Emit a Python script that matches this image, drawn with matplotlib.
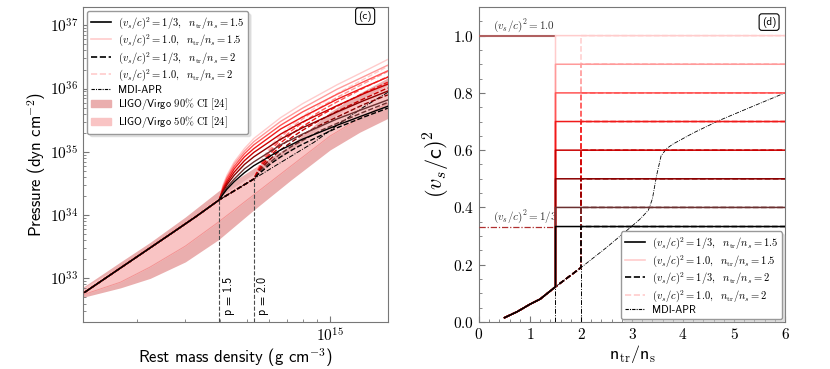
import numpy as np
import matplotlib
matplotlib.use('Agg')
import matplotlib.pyplot as plt
from matplotlib.lines import Line2D
from matplotlib.patches import Patch
from matplotlib.ticker import FuncFormatter, LogLocator, NullFormatter, MultipleLocator, AutoMinorLocator

plt.rcParams['mathtext.fontset'] = 'cm'
plt.rcParams['font.family'] = ['cmss10', 'DejaVu Sans']
plt.rcParams['axes.unicode_minus'] = False

# saturation rest-mass density (g cm^-3)
rho_sat = 2.65e14

# sound speeds squared of the constant-sound-speed extensions
cs2_vals = [1/3, 0.4, 0.5, 0.6, 0.7, 0.8, 0.9, 1.0]
cs2_colors = ['#000000', '#6b3030', '#8b0000', '#c80000', '#f01a1a', '#ff5555', '#ff9a9a', '#ffcccc']

# MDI-APR, left panel: n/n_s and log10 P
mdi_n = [0.49, 0.7, 1.0, 1.24, 1.5, 2.0, 2.5, 3.0, 3.3, 3.6, 4.0, 5.0, 6.1]
mdi_logP = [32.78, 33.24, 33.70, 33.98, 34.24, 34.57, 34.83, 35.04, 35.15, 35.27, 35.42, 35.71, 35.94]

# CSS branches after n_tr/n_s = 1.5 (rows follow cs2_vals)
n_after15 = [1.55, 1.6, 1.7, 1.85, 2.0, 2.5, 3.0, 4.0, 5.0, 6.1]
logP_tr15 = [
    [34.33, 34.41, 34.53, 34.67, 34.78, 35.03, 35.20, 35.42, 35.58, 35.72],
    [34.35, 34.44, 34.57, 34.73, 34.84, 35.11, 35.28, 35.52, 35.68, 35.82],
    [34.37, 34.48, 34.63, 34.80, 34.92, 35.20, 35.38, 35.63, 35.81, 35.96],
    [34.40, 34.51, 34.68, 34.86, 34.99, 35.28, 35.47, 35.73, 35.92, 36.07],
    [34.42, 34.54, 34.73, 34.92, 35.05, 35.36, 35.55, 35.83, 36.02, 36.18],
    [34.44, 34.58, 34.77, 34.97, 35.11, 35.42, 35.63, 35.91, 36.11, 36.28],
    [34.46, 34.60, 34.81, 35.01, 35.16, 35.48, 35.69, 35.99, 36.19, 36.37],
    [34.48, 34.63, 34.84, 35.05, 35.21, 35.54, 35.76, 36.06, 36.27, 36.46],
]

# CSS branches after n_tr/n_s = 2
n_after20 = [2.07, 2.15, 2.3, 2.5, 2.75, 3.0, 3.5, 4.0, 5.0, 6.1]
logP_tr20 = [
    [34.64, 34.70, 34.81, 34.92, 35.03, 35.12, 35.26, 35.38, 35.55, 35.69],
    [34.65, 34.73, 34.84, 34.97, 35.09, 35.18, 35.34, 35.45, 35.63, 35.78],
    [34.67, 34.76, 34.89, 35.03, 35.16, 35.27, 35.43, 35.55, 35.75, 35.90],
    [34.69, 34.79, 34.94, 35.09, 35.23, 35.34, 35.51, 35.64, 35.84, 36.01],
    [34.70, 34.82, 34.98, 35.14, 35.29, 35.40, 35.58, 35.72, 35.93, 36.10],
    [34.72, 34.84, 35.02, 35.19, 35.34, 35.46, 35.65, 35.79, 36.01, 36.19],
    [34.73, 34.87, 35.05, 35.23, 35.39, 35.52, 35.71, 35.86, 36.08, 36.27],
    [34.75, 34.89, 35.09, 35.27, 35.43, 35.56, 35.76, 35.92, 36.15, 36.35],
]

# LIGO/Virgo credible bands (log10 P)
band_rho = [1.28e14, 1.75e14, 2.24e14, 3.0e14, 3.95e14, 5.3e14, 7.2e14, 1.0e15, 1.28e15, 1.62e15]
ci90_lo = [32.70, 32.85, 33.00, 33.26, 33.61, 34.08, 34.55, 35.03, 35.31, 35.53]
ci90_hi = [32.86, 33.26, 33.57, 33.97, 34.38, 34.74, 35.11, 35.63, 35.93, 36.17]
ci50_lo = [32.74, 32.94, 33.18, 33.51, 33.89, 34.32, 34.77, 35.25, 35.53, 35.77]
ci50_hi = [32.85, 33.19, 33.51, 33.89, 34.28, 34.65, 35.01, 35.52, 35.82, 36.06]

# MDI-APR sound speed, right panel
rp_mdi_n = [0.5, 0.75, 1.0, 1.2, 1.5, 2.0, 2.5, 3.0, 3.15, 3.32, 3.4, 3.48, 3.57, 3.68, 3.81, 4.2, 4.7, 5.3, 6.0]
rp_mdi_cs2 = [0.015, 0.036, 0.062, 0.08, 0.123, 0.19, 0.26, 0.335, 0.358, 0.39, 0.43, 0.51, 0.58, 0.606, 0.622, 0.66, 0.703, 0.748, 0.80]

n_tr_vals = [1.5, 2.0]

fig = plt.figure(figsize=(8.3, 3.69), dpi=100)
ax1 = fig.add_axes([0.1, 0.1274, 0.3675, 0.8537])
ax2 = fig.add_axes([0.5771, 0.1274, 0.3687, 0.8537])

spine_col = '#777777'
ci90_col = '#eaaeae'
ci50_col = '#f9c4c4'
dashdot = (0, (5, 1.5, 1, 1.5))

# ---------- left panel ----------
ax1.fill_between(band_rho, 10**np.array(ci90_lo), 10**np.array(ci90_hi), color=ci90_col, lw=0, zorder=1)
ax1.fill_between(band_rho, 10**np.array(ci50_lo), 10**np.array(ci50_hi), color=ci50_col, lw=0, zorder=1)
ax1.plot(band_rho, 10**np.array(ci50_lo), color='#f29494', lw=0.7, zorder=1)

mdi_rho = np.array(mdi_n) * rho_sat
ax1.plot(mdi_rho, 10**np.array(mdi_logP), color='black', lw=0.7, ls=dashdot, zorder=2)

# dashed set (n_tr = 2) first, solid set on top
for i in reversed(range(len(cs2_vals))):
    x = np.array(mdi_n[:6] + n_after20) * rho_sat
    y = 10**np.array(mdi_logP[:6] + logP_tr20[i])
    ax1.plot(x, y, color=cs2_colors[i], lw=1.0, ls='--', zorder=3)
for i in reversed(range(len(cs2_vals))):
    x = np.array(mdi_n[:5] + n_after15) * rho_sat
    y = 10**np.array(mdi_logP[:5] + logP_tr15[i])
    ax1.plot(x, y, color=cs2_colors[i], lw=1.0, zorder=4)

ymin1 = 10**32.31
for k, ntr in enumerate(n_tr_vals):
    idx = mdi_n.index(ntr)
    ax1.vlines(ntr * rho_sat, ymin1, 10**mdi_logP[idx], color='0.3', lw=0.8, ls='--', zorder=2)
    ax1.text(ntr * rho_sat * 1.03, 10**32.42, 'p = %.1f' % ntr, rotation=90,
             ha='left', va='bottom', fontsize=8.5)

ax1.set_xscale('log')
ax1.set_yscale('log')
ax1.set_xlim(1.28e14, 1.62e15)
ax1.set_ylim(ymin1, 10**37.29)
ax1.xaxis.set_major_formatter(FuncFormatter(lambda v, p: r'$10^{%d}$' % round(np.log10(v))))
ax1.yaxis.set_major_formatter(FuncFormatter(lambda v, p: r'$10^{%d}$' % round(np.log10(v))))
ax1.xaxis.set_minor_formatter(NullFormatter())
ax1.yaxis.set_minor_formatter(NullFormatter())
ax1.yaxis.set_major_locator(LogLocator(base=10, numticks=10))
ax1.yaxis.set_minor_locator(LogLocator(base=10, subs=np.arange(2, 10), numticks=10))
ax1.set_xlabel('Rest mass density (g cm$^{-3}$)', fontsize=12, labelpad=1)
ax1.set_ylabel('Pressure (dyn cm$^{-2}$)', fontsize=12, labelpad=1)

handles1 = [
    Line2D([], [], color='black', lw=1.2),
    Line2D([], [], color='#ffcccc', lw=1.2),
    Line2D([], [], color='black', lw=1.2, ls='--'),
    Line2D([], [], color='#ffcccc', lw=1.2, ls='--'),
    Line2D([], [], color='black', lw=0.8, ls=(0, (3, 1, 1, 1))),
    Patch(color=ci90_col),
    Patch(color=ci50_col),
]
labels1 = [
    r'$(v_s/c)^2 = 1/3,\ \ n_{\rm tr}/n_s = 1.5$',
    r'$(v_s/c)^2 = 1.0,\ \ n_{\rm tr}/n_s = 1.5$',
    r'$(v_s/c)^2 = 1/3,\ \ n_{\rm tr}/n_s = 2$',
    r'$(v_s/c)^2 = 1.0,\ \ n_{\rm tr}/n_s = 2$',
    'MDI-APR',
    r'LIGO/Virgo $\mathrm{90\%\ CI\ [24]}$',
    r'LIGO/Virgo $\mathrm{50\%\ CI\ [24]}$',
]
ax1.legend(handles1, labels1, loc='upper left', fontsize=7.6, frameon=True, edgecolor='0.6',
           shadow={'color': '0.8'}, borderaxespad=0.4, labelspacing=0.15, handlelength=1.9,
           handletextpad=0.7, borderpad=0.35)
ax1.text(0.925, 0.971, '(c)', transform=ax1.transAxes, ha='center', va='center', fontsize=8,
         bbox=dict(boxstyle='round,pad=0.25', fc='white', ec='black', lw=0.8))

# ---------- right panel ----------
ax2.plot(rp_mdi_n, rp_mdi_cs2, color='black', lw=0.6, ls=dashdot, zorder=2)
for k, ntr in enumerate(n_tr_vals):
    idx = rp_mdi_n.index(ntr)
    ax2.vlines(ntr, 0, rp_mdi_cs2[idx], color='black', lw=0.7, ls=dashdot, zorder=2)

for i in reversed(range(len(cs2_vals))):
    c = cs2_vals[i]
    x = rp_mdi_n[:6] + [2.0, 6.0]
    y = rp_mdi_cs2[:6] + [c, c]
    ax2.plot(x, y, color=cs2_colors[i], lw=1.1, ls='--', zorder=3)
for i in reversed(range(len(cs2_vals))):
    c = cs2_vals[i]
    x = rp_mdi_n[:5] + [1.5, 6.0]
    y = rp_mdi_cs2[:5] + [c, c]
    ax2.plot(x, y, color=cs2_colors[i], lw=1.1, zorder=4)

ax2.plot([0, 1.5], [1.0, 1.0], color='#b06060', lw=1.5, zorder=3)
ax2.plot([0, 1.5], [1/3, 1/3], color='#b03030', lw=0.9, ls=dashdot, zorder=3)
ax2.text(0.27, 1.004, r'$(v_s/c)^2 = 1.0$', fontsize=8, ha='left', va='bottom', color='#333333')
ax2.text(0.27, 0.337, r'$(v_s/c)^2 = 1/3$', fontsize=8, ha='left', va='bottom', color='#333333')

ax2.set_xlim(0, 6)
ax2.set_ylim(0, 1.1)
ax2.xaxis.set_major_locator(MultipleLocator(1))
ax2.yaxis.set_major_locator(MultipleLocator(0.2))
ax2.xaxis.set_minor_locator(AutoMinorLocator())
ax2.yaxis.set_minor_locator(AutoMinorLocator())
ax2.xaxis.set_major_formatter(FuncFormatter(lambda v, p: r'$%d$' % round(v)))
ax2.yaxis.set_major_formatter(FuncFormatter(lambda v, p: r'$%.1f$' % v))
ax2.set_xlabel(r'n$_{\rm tr}$/n$_{\rm s}$', fontsize=13, labelpad=1)
ax2.set_ylabel(r'$(v_s/$c$)^2$', fontsize=16, labelpad=1)

handles2 = handles1[:5]
labels2 = labels1[:5]
ax2.legend(handles2, labels2, loc='lower right', fontsize=7.6, frameon=True, edgecolor='0.6',
           shadow={'color': '0.8'}, borderaxespad=0.3, labelspacing=0.15, handlelength=1.9,
           handletextpad=0.7, borderpad=0.35)
ax2.text(0.948, 0.952, '(d)', transform=ax2.transAxes, ha='center', va='center', fontsize=8,
         bbox=dict(boxstyle='round,pad=0.25', fc='white', ec='black', lw=0.8))

for ax in (ax1, ax2):
    for s in ax.spines.values():
        s.set_color(spine_col)
    ax.tick_params(which='both', direction='in', color=spine_col, labelsize=11)
    ax.tick_params(which='major', length=4)
    ax.tick_params(which='minor', length=2)

fig.savefig('out.png', dpi=100)
